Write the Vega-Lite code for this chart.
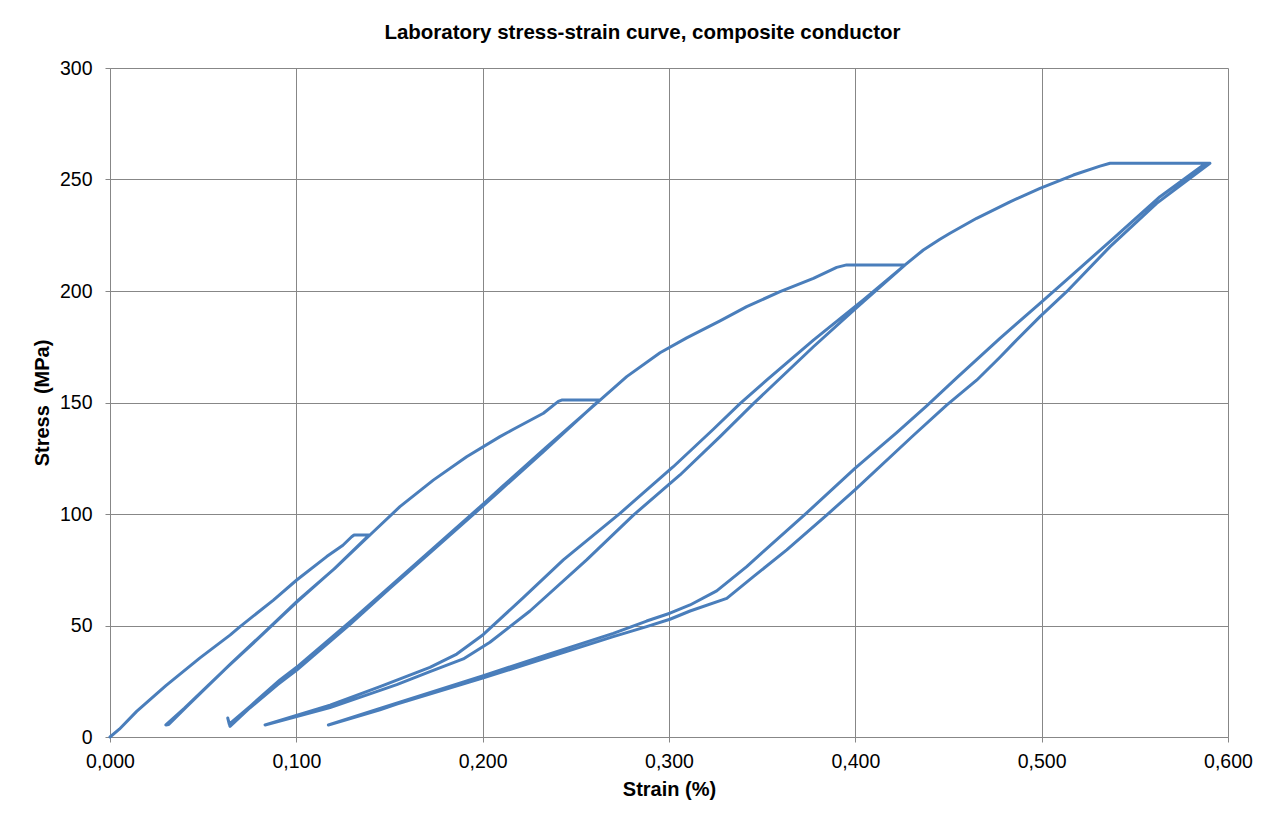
{
  "$schema": "https://vega.github.io/schema/vega-lite/v6.json",
  "width": 1118,
  "height": 669,
  "autosize": {"type": "none"},
  "padding": {"left": 110, "top": 68, "right": 48, "bottom": 81},
  "background": "white",
  "title": {
    "text": "Laboratory stress-strain curve, composite conductor",
    "font": "Liberation Sans",
    "fontSize": 20.5,
    "fontWeight": "bold",
    "color": "#000000",
    "anchor": "middle",
    "frame": "bounds",
    "offset": 15
  },
  "data": {
    "values": [
      {"i": 0, "strain": 0, "stress": 0},
      {"i": 1, "strain": 0.005, "stress": 3.5},
      {"i": 2, "strain": 0.0143, "stress": 11.5},
      {"i": 3, "strain": 0.03, "stress": 23},
      {"i": 4, "strain": 0.0483, "stress": 35.5},
      {"i": 5, "strain": 0.0644, "stress": 45.7},
      {"i": 6, "strain": 0.0698, "stress": 49.5},
      {"i": 7, "strain": 0.0877, "stress": 61.4},
      {"i": 8, "strain": 0.1002, "stress": 70.4},
      {"i": 9, "strain": 0.1163, "stress": 80.9},
      {"i": 10, "strain": 0.125, "stress": 86},
      {"i": 11, "strain": 0.1297, "stress": 89.8},
      {"i": 12, "strain": 0.131, "stress": 90.6},
      {"i": 13, "strain": 0.1395, "stress": 90.6},
      {"i": 14, "strain": 0.1378, "stress": 89.5},
      {"i": 15, "strain": 0.1198, "stress": 75},
      {"i": 16, "strain": 0.1002, "stress": 60.5},
      {"i": 17, "strain": 0.08, "stress": 44.5},
      {"i": 18, "strain": 0.0644, "stress": 32.5},
      {"i": 19, "strain": 0.0537, "stress": 24},
      {"i": 20, "strain": 0.04, "stress": 13},
      {"i": 21, "strain": 0.03, "stress": 5.4},
      {"i": 22, "strain": 0.0315, "stress": 5.6},
      {"i": 23, "strain": 0.041, "stress": 13.5},
      {"i": 24, "strain": 0.0545, "stress": 24.5},
      {"i": 25, "strain": 0.065, "stress": 33},
      {"i": 26, "strain": 0.081, "stress": 45.5},
      {"i": 27, "strain": 0.1012, "stress": 61.5},
      {"i": 28, "strain": 0.1205, "stress": 75.5},
      {"i": 29, "strain": 0.1395, "stress": 90.6},
      {"i": 30, "strain": 0.1556, "stress": 103.3},
      {"i": 31, "strain": 0.1735, "stress": 115.2},
      {"i": 32, "strain": 0.1914, "stress": 125.7},
      {"i": 33, "strain": 0.2093, "stress": 134.7},
      {"i": 34, "strain": 0.2165, "stress": 138},
      {"i": 35, "strain": 0.2326, "stress": 145.2},
      {"i": 36, "strain": 0.2406, "stress": 150.5},
      {"i": 37, "strain": 0.2424, "stress": 151.1},
      {"i": 38, "strain": 0.263, "stress": 151.1},
      {"i": 39, "strain": 0.2606, "stress": 149.5},
      {"i": 40, "strain": 0.2326, "stress": 128},
      {"i": 41, "strain": 0.2093, "stress": 110.5},
      {"i": 42, "strain": 0.2, "stress": 103.5},
      {"i": 43, "strain": 0.15, "stress": 66.5},
      {"i": 44, "strain": 0.1288, "stress": 50.5},
      {"i": 45, "strain": 0.1002, "stress": 30},
      {"i": 46, "strain": 0.09, "stress": 23.5},
      {"i": 47, "strain": 0.075, "stress": 13},
      {"i": 48, "strain": 0.0644, "stress": 4.8},
      {"i": 49, "strain": 0.0632, "stress": 8.5},
      {"i": 50, "strain": 0.064, "stress": 5.8},
      {"i": 51, "strain": 0.0755, "stress": 14},
      {"i": 52, "strain": 0.0912, "stress": 25.6},
      {"i": 53, "strain": 0.1012, "stress": 32},
      {"i": 54, "strain": 0.13, "stress": 52.5},
      {"i": 55, "strain": 0.151, "stress": 68},
      {"i": 56, "strain": 0.201, "stress": 105},
      {"i": 57, "strain": 0.2105, "stress": 112.3},
      {"i": 58, "strain": 0.2336, "stress": 129.5},
      {"i": 59, "strain": 0.263, "stress": 151.1},
      {"i": 60, "strain": 0.2773, "stress": 161.6},
      {"i": 61, "strain": 0.2952, "stress": 172.3},
      {"i": 62, "strain": 0.3095, "stress": 179},
      {"i": 63, "strain": 0.3274, "stress": 186.6},
      {"i": 64, "strain": 0.3417, "stress": 193},
      {"i": 65, "strain": 0.3596, "stress": 199.7},
      {"i": 66, "strain": 0.3775, "stress": 205.7},
      {"i": 67, "strain": 0.39, "stress": 210.6},
      {"i": 68, "strain": 0.3953, "stress": 211.7},
      {"i": 69, "strain": 0.4267, "stress": 211.7},
      {"i": 70, "strain": 0.4007, "stress": 192.5},
      {"i": 71, "strain": 0.3775, "stress": 175},
      {"i": 72, "strain": 0.3453, "stress": 149.5},
      {"i": 73, "strain": 0.3274, "stress": 134.7},
      {"i": 74, "strain": 0.3059, "stress": 117.5},
      {"i": 75, "strain": 0.2809, "stress": 99.5},
      {"i": 76, "strain": 0.2558, "stress": 79.4},
      {"i": 77, "strain": 0.2254, "stress": 56.5},
      {"i": 78, "strain": 0.2039, "stress": 42.5},
      {"i": 79, "strain": 0.1896, "stress": 35},
      {"i": 80, "strain": 0.1717, "stress": 29.3},
      {"i": 81, "strain": 0.1539, "stress": 23.5},
      {"i": 82, "strain": 0.1181, "stress": 13.2},
      {"i": 83, "strain": 0.0832, "stress": 5.4},
      {"i": 84, "strain": 0.1181, "stress": 14.3},
      {"i": 85, "strain": 0.1449, "stress": 22.6},
      {"i": 86, "strain": 0.1717, "stress": 31.2},
      {"i": 87, "strain": 0.1861, "stress": 37.2},
      {"i": 88, "strain": 0.2004, "stress": 46},
      {"i": 89, "strain": 0.2218, "stress": 62.5},
      {"i": 90, "strain": 0.2433, "stress": 79.4},
      {"i": 91, "strain": 0.2737, "stress": 100.3},
      {"i": 92, "strain": 0.3023, "stress": 121.2},
      {"i": 93, "strain": 0.3238, "stress": 138},
      {"i": 94, "strain": 0.3381, "stress": 149.5},
      {"i": 95, "strain": 0.3524, "stress": 160},
      {"i": 96, "strain": 0.3775, "stress": 178},
      {"i": 97, "strain": 0.4043, "stress": 196},
      {"i": 98, "strain": 0.4267, "stress": 211.7},
      {"i": 99, "strain": 0.4365, "stress": 218.4},
      {"i": 100, "strain": 0.4454, "stress": 223.2},
      {"i": 101, "strain": 0.4508, "stress": 225.9},
      {"i": 102, "strain": 0.4651, "stress": 232.6},
      {"i": 103, "strain": 0.483, "stress": 240},
      {"i": 104, "strain": 0.4991, "stress": 246},
      {"i": 105, "strain": 0.517, "stress": 252},
      {"i": 106, "strain": 0.5313, "stress": 256},
      {"i": 107, "strain": 0.5367, "stress": 257.3},
      {"i": 108, "strain": 0.5903, "stress": 257.3},
      {"i": 109, "strain": 0.5617, "stress": 239.3},
      {"i": 110, "strain": 0.5367, "stress": 219.9},
      {"i": 111, "strain": 0.5134, "stress": 199.7},
      {"i": 112, "strain": 0.4991, "stress": 188.5},
      {"i": 113, "strain": 0.4848, "stress": 176.5},
      {"i": 114, "strain": 0.4776, "stress": 170.3},
      {"i": 115, "strain": 0.4651, "stress": 160},
      {"i": 116, "strain": 0.449, "stress": 148.8},
      {"i": 117, "strain": 0.4311, "stress": 135.2},
      {"i": 118, "strain": 0.3998, "stress": 110.8},
      {"i": 119, "strain": 0.3846, "stress": 99.5},
      {"i": 120, "strain": 0.3632, "stress": 83.9},
      {"i": 121, "strain": 0.3453, "stress": 71.9},
      {"i": 122, "strain": 0.331, "stress": 62.2},
      {"i": 123, "strain": 0.3113, "stress": 56.5},
      {"i": 124, "strain": 0.3005, "stress": 52.8},
      {"i": 125, "strain": 0.288, "stress": 49.5},
      {"i": 126, "strain": 0.2701, "stress": 45},
      {"i": 127, "strain": 0.2343, "stress": 35.5},
      {"i": 128, "strain": 0.2004, "stress": 26.5},
      {"i": 129, "strain": 0.1539, "stress": 14.8},
      {"i": 130, "strain": 0.1449, "stress": 12.2},
      {"i": 131, "strain": 0.1172, "stress": 5.4},
      {"i": 132, "strain": 0.1449, "stress": 12.8},
      {"i": 133, "strain": 0.2004, "stress": 27.5},
      {"i": 134, "strain": 0.2343, "stress": 36.8},
      {"i": 135, "strain": 0.2701, "stress": 46.5},
      {"i": 136, "strain": 0.288, "stress": 52},
      {"i": 137, "strain": 0.3005, "stress": 55.5},
      {"i": 138, "strain": 0.3113, "stress": 59.2},
      {"i": 139, "strain": 0.3256, "stress": 65.5},
      {"i": 140, "strain": 0.3417, "stress": 76.4},
      {"i": 141, "strain": 0.3506, "stress": 83.1},
      {"i": 142, "strain": 0.3739, "stress": 100.5},
      {"i": 143, "strain": 0.3998, "stress": 120.5},
      {"i": 144, "strain": 0.4222, "stress": 136.5},
      {"i": 145, "strain": 0.4383, "stress": 148.5},
      {"i": 146, "strain": 0.4544, "stress": 161},
      {"i": 147, "strain": 0.4776, "stress": 178.8},
      {"i": 148, "strain": 0.4991, "stress": 194.5},
      {"i": 149, "strain": 0.5134, "stress": 205},
      {"i": 150, "strain": 0.5385, "stress": 223.6},
      {"i": 151, "strain": 0.5635, "stress": 242.3},
      {"i": 152, "strain": 0.5868, "stress": 256.5},
      {"i": 153, "strain": 0.5903, "stress": 257.3}
    ]
  },
  "mark": {
    "type": "line",
    "color": "#4a7ebb",
    "strokeWidth": 3,
    "strokeJoin": "round",
    "strokeCap": "round"
  },
  "encoding": {
    "x": {
      "field": "strain",
      "type": "quantitative",
      "scale": {"domain": [0, 0.6], "nice": false, "zero": false},
      "axis": {
        "title": "Strain (%)",
        "values": [0, 0.1, 0.2, 0.3, 0.4, 0.5, 0.6],
        "labelExpr": "replace(format(datum.value, '.3f'), '.', ',')",
        "labelPadding": 10,
        "titlePadding": 9,
        "labelOverlap": false,
        "labelBound": false,
        "labelFlush": false
      }
    },
    "y": {
      "field": "stress",
      "type": "quantitative",
      "scale": {"domain": [0, 300], "nice": false, "zero": false},
      "axis": {
        "title": "Stress \u00a0(MPa)",
        "values": [0, 50, 100, 150, 200, 250, 300],
        "labelPadding": 13,
        "titlePadding": 7,
        "labelOverlap": false,
        "labelBound": false
      }
    },
    "order": {"field": "i", "type": "quantitative"}
  },
  "config": {
    "view": {"stroke": null},
    "axis": {
      "labelFont": "Liberation Sans",
      "labelFontSize": 19.5,
      "labelColor": "#000000",
      "titleFont": "Liberation Sans",
      "titleFontSize": 20,
      "titleFontWeight": "bold",
      "titleColor": "#000000",
      "gridColor": "#878787",
      "gridWidth": 1,
      "gridOpacity": 1,
      "domainColor": "#878787",
      "domainWidth": 1,
      "tickColor": "#878787",
      "tickSize": 5,
      "tickWidth": 1
    }
  }
}
